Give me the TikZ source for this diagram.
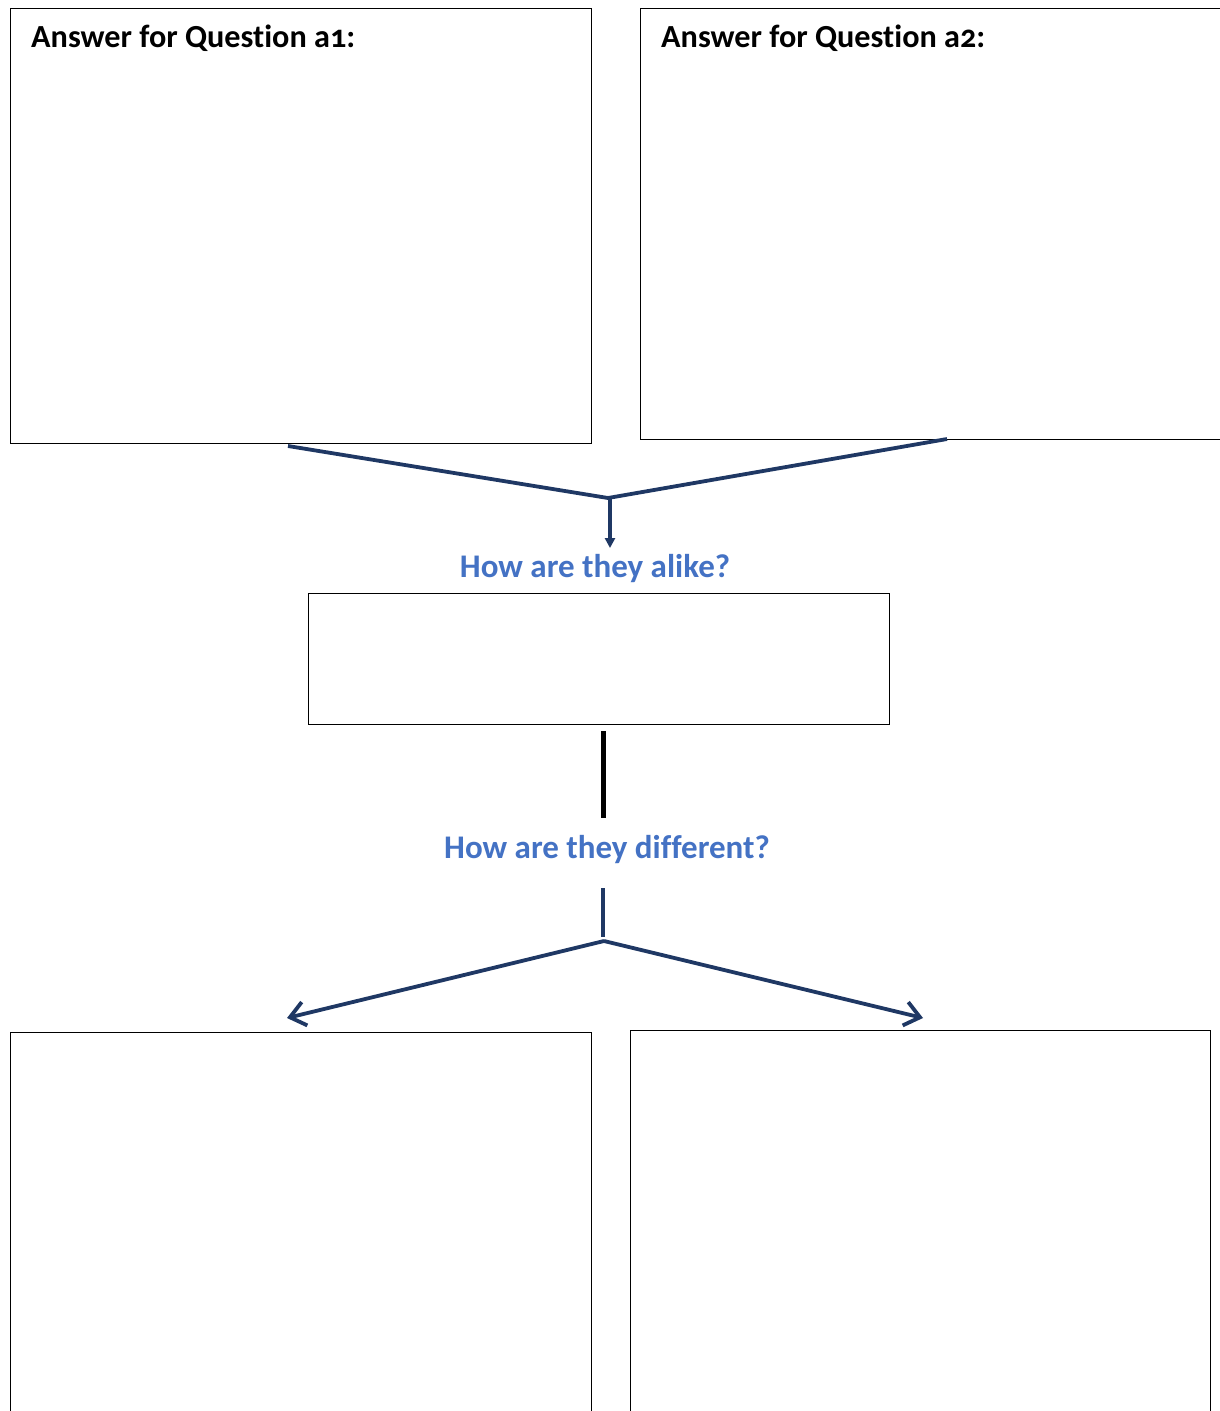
\documentclass[tikz,border=0pt]{standalone}
\usepackage{fontspec}
\setmainfont{Carlito}[Numbers=OldStyle, Ligatures=NoCommon]
\usetikzlibrary{arrows.meta}
\definecolor{navy}{RGB}{31,56,100}
\definecolor{qblue}{RGB}{68,114,196}
\begin{document}
\begin{tikzpicture}[x=1pt,y=-1pt,
  answerbox/.style={draw=black, line width=1.2pt, rectangle, inner sep=0pt, anchor=north west},
  heading/.style={inner sep=0pt, anchor=base west, font=\fontsize{32.2}{36}\selectfont\bfseries},
  question/.style={inner sep=0pt, anchor=base, text=qblue, font=\fontsize{33}{38}\selectfont\bfseries},
  link/.style={draw=navy, line width=3.8pt},
  barb/.style={-{Straight Barb[length=15pt,width=24pt]}}]
\useasboundingbox (0,0) rectangle (1220,1411);
\fill[white] (0,0) rectangle (1220,1411);

% answer boxes
\node[answerbox, minimum width=581pt, minimum height=435pt] (a1) at (10,8) {};
\node[answerbox, minimum width=580pt, minimum height=431pt] (a2) at (640,8) {};
\node[heading] (t1) at (31,47) {Answer for Question a1:};
\node[heading] (t2) at (661,47) {Answer for Question a2:};

% comparison boxes
\node[answerbox, minimum width=581pt, minimum height=131pt] (alikebox) at (308,593) {};
\node[answerbox, minimum width=581pt, minimum height=420pt] (d1) at (10,1032) {};
\node[answerbox, minimum width=580pt, minimum height=420pt] (d2) at (630,1030) {};

% questions
\node[question] (alike) at (595,577) {How are they alike?};
\node[question] (diff) at (607,858) {How are they different?};

% merging connector
\coordinate (s1) at (288,446);
\coordinate (s2) at (947,439);
\coordinate (j1) at (608,498);
\coordinate (e1) at (610,548);
\draw[link] (s1) -- (j1) -- (s2);
\draw[draw=navy, line width=3.5pt, -{Triangle[length=10pt,width=10pt]}] (j1 -| e1) -- (e1);

% link between the two questions
\coordinate (b1) at (603,731);
\coordinate (b2) at (603,818);
\draw[black, line width=5pt] (b1) -- (b2);

% splitting connector
\coordinate (v1) at (603,888);
\coordinate (j2) at (604,941);
\coordinate (p1) at (287,1018);
\coordinate (p2) at (923,1018);
\draw[link] (v1) -- (603,937);
\draw[link, barb] (j2) -- (p1);
\draw[link, barb] (j2) -- (p2);
\end{tikzpicture}
\end{document}
